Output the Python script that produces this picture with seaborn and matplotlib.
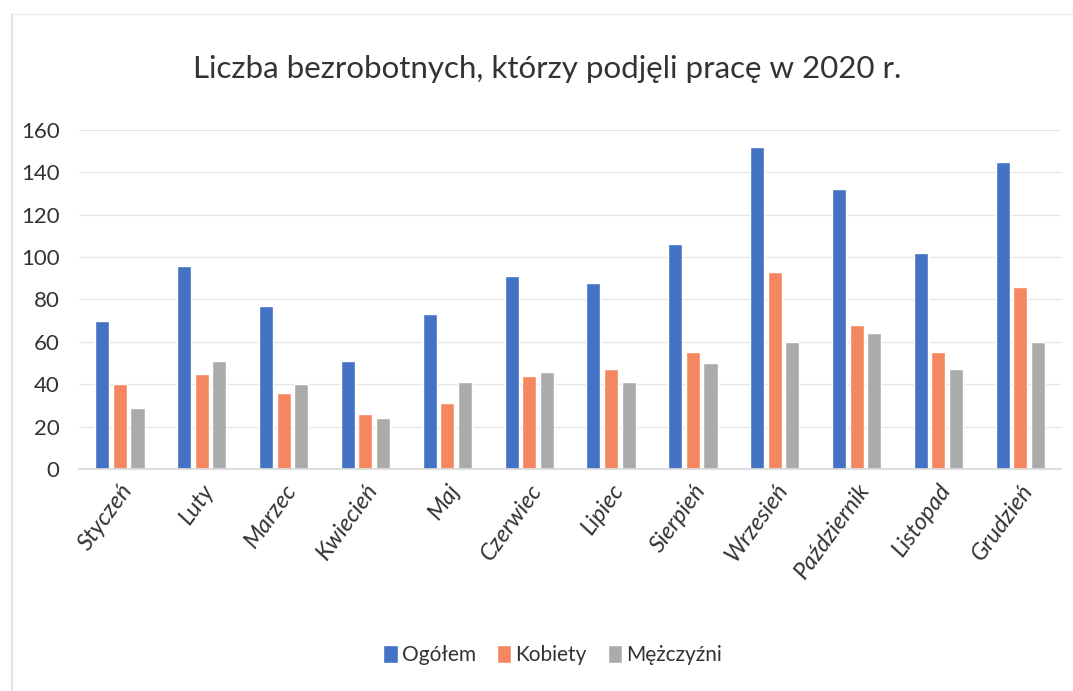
import matplotlib
matplotlib.use("Agg")
import matplotlib.pyplot as plt
import pandas as pd
import seaborn as sns

months = ["Styczeń", "Luty", "Marzec", "Kwiecień", "Maj", "Czerwiec",
          "Lipiec", "Sierpień", "Wrzesień", "Październik", "Listopad", "Grudzień"]
ogolem = [70, 96, 77, 51, 73, 91, 88, 106, 152, 132, 102, 145]
kobiety = [40, 45, 36, 26, 31, 44, 47, 55, 93, 68, 55, 86]
mezczyzni = [29, 51, 40, 24, 41, 46, 41, 50, 60, 64, 47, 60]
series = ["Ogółem", "Kobiety", "Mężczyźni"]
colors = ["#4472C4", "#F4875F", "#ABABAB"]
title = "Liczba bezrobotnych, którzy podjęli pracę w 2020 r."

rows = []
for name, vals in zip(series, [ogolem, kobiety, mezczyzni]):
    for m, v in zip(months, vals):
        rows.append({"miesiac": m, "seria": name, "liczba": v})
df = pd.DataFrame(rows)

sns.set_theme(style="white")
plt.rcParams["font.family"] = ["Lato", "DejaVu Sans"]

fig = plt.figure(figsize=(10.73, 6.91), dpi=100)
ax = fig.add_axes([0.0736, 0.3213, 0.9154, 0.4906])

sns.barplot(data=df, x="miesiac", y="liczba", hue="seria", order=months,
            hue_order=series, palette=colors, width=0.645, gap=0.2,
            saturation=1, errorbar=None, ax=ax)

ax.set_ylim(0, 160)
ax.set_yticks(range(0, 161, 20))
ax.set_xlim(-0.5, len(months) - 0.5)
ax.yaxis.grid(True, color="#E6E6E6", linewidth=1)
ax.set_axisbelow(True)
for s in ["top", "right", "left"]:
    ax.spines[s].set_visible(False)
ax.spines["bottom"].set_color("#D9D9D9")
ax.set_xlabel("")
ax.set_ylabel("")
ax.tick_params(axis="y", length=0, pad=14, labelsize=16, labelcolor="#333333")
ax.tick_params(axis="x", length=0, pad=8, labelcolor="#333333")
plt.setp(ax.get_xticklabels(), rotation=54, ha="right", rotation_mode="anchor",
         fontsize=17, style="italic")

fig.suptitle(title, x=0.51, y=0.92, fontsize=22.5, color="#333333")

handles, labels = ax.get_legend_handles_labels()
ax.get_legend().remove()
fig.legend(handles, labels, loc="center", bbox_to_anchor=(0.515, 0.052), ncol=3,
           frameon=False, fontsize=15, handlelength=0.7, handleheight=0.9,
           handletextpad=0.2, columnspacing=1.0, labelcolor="#333333")

# faint chart border from the original screenshot
fig.add_artist(plt.Line2D([0.011, 0.011], [0.0, 0.98], color="#E3E3E3", linewidth=1.5))
fig.add_artist(plt.Line2D([0.011, 1.0], [0.98, 0.98], color="#EEEEEE", linewidth=1))

fig.savefig("out.png", dpi=100)
